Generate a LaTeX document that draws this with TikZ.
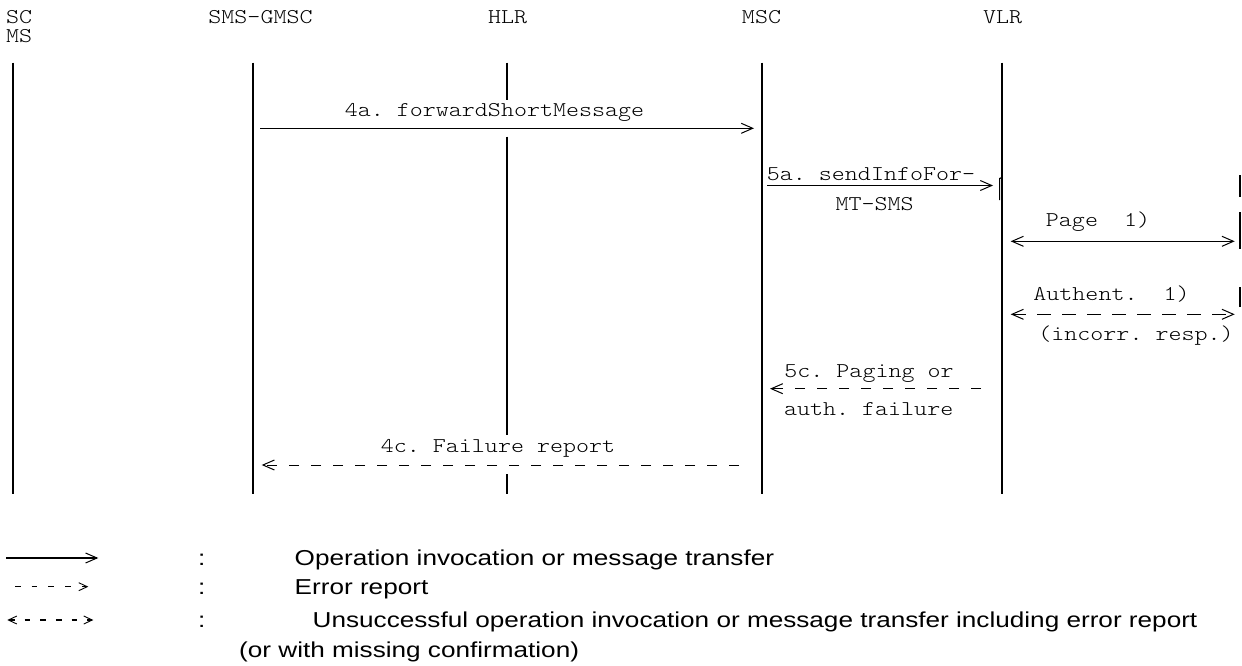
\documentclass[tikz,border=0pt]{standalone}
\usepackage{fontspec}
\usetikzlibrary{arrows.meta}
\newfontfamily\courfont{lmmonolt10-regular.otf}[FakeStretch=1.18]
\newfontfamily\legfont{Liberation Sans}[FakeStretch=1.21]
\begin{document}
\begin{tikzpicture}[x=1pt,y=-1pt,
  chev/.tip={Straight Barb[length=11.5pt,width=10pt,line width=1pt]},
  smallchev/.tip={Straight Barb[length=8.5pt,width=8pt,line width=0.9pt]},
  life/.style={line width=1.8pt},
  msg/.style={line width=1.2pt,-chev},
  bimsg/.style={line width=1.2pt,chev-chev},
  errmsg/.style={line width=1pt,-chev,dash pattern=on 10pt off 12pt},
  bierr/.style={line width=1.1pt,chev-chev,dash pattern=on 14pt off 11pt},
  lbl/.style={font=\courfont\fontsize{21}{25}\selectfont,inner sep=0pt,anchor=base},
  leg/.style={font=\legfont\fontsize{21.6}{26}\selectfont,inner sep=0pt,anchor=base west},
  colon/.style={font=\legfont\fontsize{21.6}{26}\selectfont,inner sep=0pt,anchor=base}]
\frenchspacing
\useasboundingbox[fill=white] (0,0) rectangle (1242,666);

% headers
\node[font=\courfont\fontsize{21}{18.3}\selectfont,inner sep=0pt,align=left,anchor=base west] (hSC) at (6,42.3) {SC\\MS};
\node[lbl] (hGMSC) at (260.5,24) {SMS-GMSC};
\node[lbl] (hHLR) at (507.7,24) {HLR};
\node[lbl] (hMSC) at (761.5,24) {MSC};
\node[lbl] (hVLR) at (1002.7,24) {VLR};

% lifeline coordinates
\coordinate (scT) at (12.7,62.7);   \coordinate (scB) at (12.7,494);
\coordinate (gmT) at (253.3,62.7);  \coordinate (gmB) at (253.3,494);
\coordinate (hlT) at (507.3,62.7);  \coordinate (hl1) at (507.3,100);
\coordinate (hl2) at (507.3,136.7); \coordinate (hl3) at (507.3,435);
\coordinate (hl4) at (507.3,474);   \coordinate (hlB) at (507.3,494);
\coordinate (msT) at (761.7,62.7);  \coordinate (msB) at (761.7,494);
\coordinate (vlT) at (1002,62.7);   \coordinate (vlB) at (1002,494);
\coordinate (mr1a) at (1240,175);   \coordinate (mr1b) at (1240,197);
\coordinate (mr2a) at (1240,212);   \coordinate (mr2b) at (1240,249);
\coordinate (mr3a) at (1240,287);   \coordinate (mr3b) at (1240,307);

\draw[life] (scT) -- (scB);
\draw[life] (gmT) -- (gmB);
\draw[life] (hlT) -- (hl1);
\draw[life] (hl2) -- (hl3);
\draw[life] (hl4) -- (hlB);
\draw[life] (msT) -- (msB);
\draw[life] (vlT) -- (vlB);
\draw[life] (mr1a) -- (mr1b);
\draw[life] (mr2a) -- (mr2b);
\draw[life] (mr3a) -- (mr3b);
% small bracket on VLR line
\coordinate (brA) at (1002,177.5); \coordinate (brB) at (999.6,178.5);
\coordinate (brC) at (999.6,200);
\draw[line width=1.2pt] (brA) -- (brB) -- (brC);

% messages
\coordinate (m4aS) at (260,128.3);    \coordinate (m4aE) at (754,128.3);
\coordinate (m5aS) at (767,185.5);    \coordinate (m5aE) at (993,185.5);
\coordinate (pgS) at (1010.7,241.3);  \coordinate (pgE) at (1234.7,241.3);
\coordinate (auS) at (1010.7,314.3);  \coordinate (auE) at (1234.7,314.3);
\coordinate (m5cS) at (981,388.7);    \coordinate (m5cE) at (770,388.7);
\coordinate (m4cS) at (739,465);      \coordinate (m4cE) at (261.7,465);

\draw[msg] (m4aS) -- (m4aE);
\draw[msg] (m5aS) -- (m5aE);
\draw[bimsg] (pgS) -- (pgE);
\draw[bierr] (auS) -- (auE);
\draw[errmsg] (m5cS) -- (m5cE);
\draw[errmsg] (m4cS) -- (m4cE);

\node[lbl] (t4a) at (494.5,116.7) {4a. forwardShortMessage};
\node[lbl] (t5a) at (871,180) {5a. sendInfoFor-};
\node[lbl] (t5ab) at (874.7,210) {MT-SMS};
\node[lbl] (tPg) at (1098,226) {Page~~1)};
\node[lbl] (tAu) at (1111.5,300.3) {Authent.~~1)};
\node[lbl] (tIn) at (1136,340.3) {(incorr. resp.)};
\node[lbl] (t5c) at (869,377) {5c. Paging or};
\node[lbl] (t5cb) at (868.7,415) {auth. failure};
\node[lbl] (t4c) at (498,452) {4c. Failure report};

% legend
\coordinate (lg1S) at (6,558);     \coordinate (lg1E) at (98.3,558);
\coordinate (lg2S) at (15,586.7);  \coordinate (lg2E) at (88.3,586.7);
\coordinate (lg3S) at (7.3,620);   \coordinate (lg3E) at (93.3,620);
\draw[line width=1.6pt,-chev] (lg1S) -- (lg1E);
\draw[line width=1.4pt,-smallchev,dash pattern=on 5.7pt off 11pt] (lg2S) -- (lg2E);
\draw[line width=1.4pt,smallchev-smallchev,dash pattern=on 5.7pt off 10pt] (lg3S) -- (lg3E);

\node[colon] (c1) at (201.7,565.7) {:};
\node[colon] (c2) at (201.7,594) {:};
\node[colon] (c3) at (201.7,627) {:};
\node[leg] (l1) at (294.5,565.7) {Operation invocation or message transfer};
\node[leg] (l2) at (294.5,594) {Error report};
\node[leg] (l3) at (312.5,627) {Unsuccessful operation invocation or message transfer including error report};
\node[leg] (l4) at (239,657) {(or with missing confirmation)};
\end{tikzpicture}
\end{document}
